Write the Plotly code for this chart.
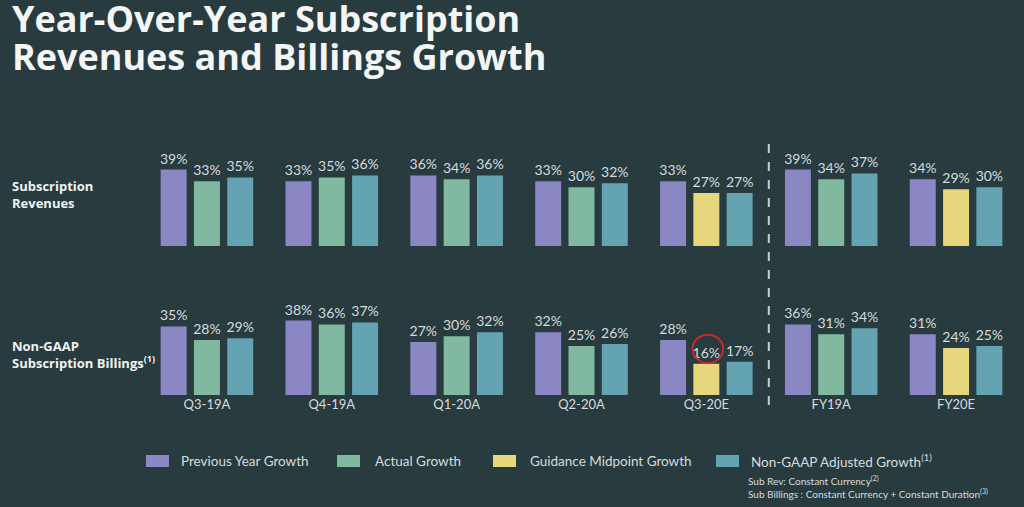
import plotly.graph_objects as go

# periods shown on the shared x axis
periods = ["Q3-19A", "Q4-19A", "Q1-20A", "Q2-20A", "Q3-20E", "FY19A", "FY20E"]

# Subscription revenues, YoY growth (%)
rev_previous = [39, 33, 36, 33, 33, 39, 34]
rev_actual = [33, 35, 34, 30, None, 34, None]
rev_guidance = [None, None, None, None, 27, None, 29]
rev_nongaap = [35, 36, 36, 32, 27, 37, 30]

# Non-GAAP subscription billings, YoY growth (%)
bill_previous = [35, 38, 27, 32, 28, 36, 31]
bill_actual = [28, 36, 30, 25, None, 31, None]
bill_guidance = [None, None, None, None, 16, None, 24]
bill_nongaap = [29, 37, 32, 26, 17, 34, 25]

BG = "#283b3f"
TXT = "#d6dcde"
KEYS = ["previous", "actual", "guidance", "nongaap"]
COLORS = {
    "previous": "#8b86c4",
    "actual": "#80b9a0",
    "guidance": "#e6d67c",
    "nongaap": "#64a3b2",
}
NAMES = {
    "previous": "Previous Year Growth",
    "actual": "Actual Growth",
    "guidance": "Guidance Midpoint Growth",
    "nongaap": "Non-GAAP Adjusted Growth<sup>(1)</sup>",
}
# actual and guidance share the middle slot of each group
OFFSETS = {"previous": "a", "actual": "b", "guidance": "b", "nongaap": "c"}

FONT = "Lato"

fig = go.Figure()


def add_row(series, xa, ya):
    for key in KEYS:
        pairs = [(p, v) for p, v in zip(periods, series[key]) if v is not None]
        xs = [p for p, _ in pairs]
        ys = [v for _, v in pairs]
        fig.add_trace(
            go.Bar(
                x=xs,
                y=ys,
                name=NAMES[key],
                marker=dict(color=COLORS[key], line=dict(width=0)),
                offsetgroup=OFFSETS[key],
                showlegend=False,
                text=[f"{v}%" for v in ys],
                textposition="outside",
                constraintext="none",
                cliponaxis=False,
                textfont=dict(color=TXT, size=14, family=FONT),
                hoverinfo="skip",
                xaxis=xa,
                yaxis=ya,
            )
        )


add_row(
    {"previous": rev_previous, "actual": rev_actual,
     "guidance": rev_guidance, "nongaap": rev_nongaap},
    "x", "y",
)
add_row(
    {"previous": bill_previous, "actual": bill_actual,
     "guidance": bill_guidance, "nongaap": bill_nongaap},
    "x2", "y2",
)

xdom = [144.5 / 1024, 1018.5 / 1024]
axis_common = dict(showgrid=False, zeroline=False, showline=False, fixedrange=True)

fig.update_layout(
    width=1024,
    height=507,
    margin=dict(l=0, r=0, t=0, b=0),
    paper_bgcolor=BG,
    plot_bgcolor=BG,
    barmode="group",
    bargap=0.2,
    bargroupgap=0.22,
    font=dict(family=FONT, color=TXT),
    showlegend=False,
    xaxis=dict(domain=xdom, anchor="y", showticklabels=False,
               categoryorder="array", categoryarray=periods, **axis_common),
    yaxis=dict(domain=[1 - 246 / 507, 1 - 157.8 / 507], range=[0, 45],
               showticklabels=False, anchor="x", **axis_common),
    xaxis2=dict(domain=xdom, anchor="y2", tickfont=dict(size=13, color=TXT, family=FONT),
                categoryorder="array", categoryarray=periods, ticks="", **axis_common),
    yaxis2=dict(domain=[1 - 395 / 507, 1 - 306.8 / 507], range=[0, 45],
                showticklabels=False, anchor="x2", **axis_common),
)


def px_x(v):
    return v / 1024


def px_y(v):
    return 1 - v / 507


# legend drawn as swatches + labels, spaced like the slide
legend_swatch_x = [146, 337, 493, 716]
legend_text_x = [179, 373, 528, 749]
for key, sx, tx in zip(KEYS, legend_swatch_x, legend_text_x):
    fig.add_shape(
        type="rect", xref="paper", yref="paper",
        x0=px_x(sx), x1=px_x(sx + 23), y0=px_y(467), y1=px_y(455),
        fillcolor=COLORS[key], line=dict(width=0),
    )
    fig.add_annotation(
        text=NAMES[key], x=px_x(tx), y=px_y(461), xref="paper", yref="paper",
        xanchor="left", yanchor="middle", showarrow=False,
        font=dict(size=13.5, color=TXT, family=FONT),
    )

# title, two lines (fixed-height boxes so the lines sit close together)
TITLE_FONT = dict(size=36, color="#f4f6f6", family="Open Sans")
fig.add_annotation(
    text="<b>Year-Over-Year Subscription</b>", x=px_x(10), y=px_y(24), height=38,
    valign="bottom", xref="paper", yref="paper", xanchor="left", yanchor="middle",
    showarrow=False, font=TITLE_FONT,
)
fig.add_annotation(
    text="<b>Revenues and Billings Growth</b>", x=px_x(10), y=px_y(62.5), height=38,
    valign="bottom", xref="paper", yref="paper", xanchor="left", yanchor="middle",
    showarrow=False, font=TITLE_FONT,
)

# row labels
ROW_FONT = dict(size=13, color="#f0f3f3", family="Open Sans")
fig.add_annotation(
    text="<b>Subscription<br>Revenues</b>", x=px_x(10), y=px_y(195),
    xref="paper", yref="paper", xanchor="left", yanchor="middle", align="left",
    showarrow=False, font=ROW_FONT,
)
fig.add_annotation(
    text="<b>Non-GAAP<br>Subscription Billings<sup>(1)</sup></b>", x=px_x(10), y=px_y(354),
    xref="paper", yref="paper", xanchor="left", yanchor="middle", align="left",
    showarrow=False, font=ROW_FONT,
)

# footnotes
fig.add_annotation(
    text="Sub Rev: Constant Currency<sup>(2)</sup><br>"
         "Sub Billings : Constant Currency + Constant Duration<sup>(3)</sup>",
    x=px_x(746), y=px_y(487), xref="paper", yref="paper",
    xanchor="left", yanchor="middle", align="left", showarrow=False,
    font=dict(size=10, color=TXT, family=FONT),
)

# dashed divider between quarterly and fiscal-year groups
split = periods.index("FY19A") - 0.5
fig.add_shape(
    type="line", xref="x", yref="paper", x0=split, x1=split,
    y0=px_y(405), y1=px_y(140),
    line=dict(color="#c8cfd2", width=2, dash="dash"),
)

# red circle highlighting the Q3-20E billings guidance
qi = periods.index("Q3-20E")
gv = bill_guidance[qi]
fig.add_shape(
    type="circle", xref="x2", yref="y2",
    x0=qi - 0.11, x1=qi + 0.135, y0=gv + 0.3, y1=gv + 14.8,
    line=dict(color="#c9272e", width=2),
)

fig.write_html(
    "out.html",
    config={"displayModeBar": False},
    post_script="document.body.style.margin='0';document.body.style.overflow='hidden';",
)
